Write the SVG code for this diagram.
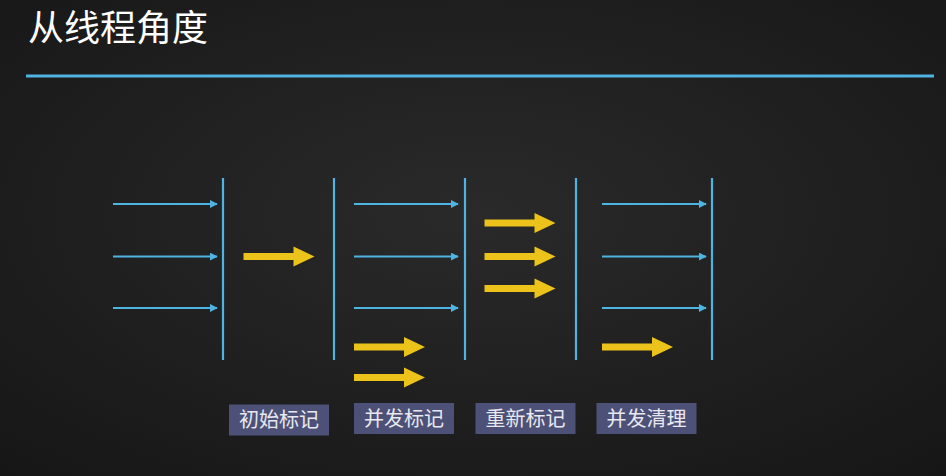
<svg xmlns="http://www.w3.org/2000/svg" width="946" height="476" viewBox="0 0 946 476">
<defs>
<radialGradient id="bg" cx="50%" cy="45%" r="75%">
<stop offset="0" stop-color="#2a2a2a"/>
<stop offset="1" stop-color="#161616"/>
</radialGradient>
<marker id="tip" viewBox="0 0 10 10" refX="9" refY="5" markerWidth="4" markerHeight="4" orient="auto" markerUnits="strokeWidth">
<path d="M0,0 L10,5 L0,10 z" fill="#4eb4e2"/>
</marker>
<path id="ya" d="M0,-3.5 L0,3.5 L50,3.5 L50,10 L71,0 L50,-10 L50,-3.5 z" fill="#ecc31a"/>
<style>
.bar{stroke:#4eb4e2;stroke-width:2.2;fill:none}
.thin{stroke:#4eb4e2;stroke-width:2;fill:none;marker-end:url(#tip)}
.box{fill:#4d5178}
.lbl{font-family:"Noto Sans CJK SC","Noto Sans",sans-serif;font-size:20px;fill:#e8e8ee;text-anchor:middle}
.title{font-family:"Noto Sans CJK SC","Noto Sans",sans-serif;font-size:36px;fill:#ffffff}
</style>
</defs>
<rect width="946" height="476" fill="url(#bg)"/>
<text class="title" x="28" y="41">从线程角度</text>
<line x1="26" y1="76" x2="934" y2="76" stroke="#4eb4e2" stroke-width="3"/>
<g id="connectors">
<line class="bar" x1="223" y1="178" x2="223" y2="360"/>
<line class="bar" x1="334" y1="178" x2="334" y2="360"/>
<line class="bar" x1="465" y1="178" x2="465" y2="360"/>
<line class="bar" x1="576" y1="178" x2="576" y2="360"/>
<line class="bar" x1="712" y1="178" x2="712" y2="360"/>
<line class="thin" x1="113" y1="204" x2="217" y2="204"/>
<line class="thin" x1="113" y1="256.5" x2="217" y2="256.5"/>
<line class="thin" x1="113" y1="308" x2="217" y2="308"/>
<line class="thin" x1="354" y1="204" x2="458" y2="204"/>
<line class="thin" x1="354" y1="256.5" x2="458" y2="256.5"/>
<line class="thin" x1="354" y1="308" x2="458" y2="308"/>
<line class="thin" x1="602" y1="204" x2="706" y2="204"/>
<line class="thin" x1="602" y1="256.5" x2="706" y2="256.5"/>
<line class="thin" x1="602" y1="308" x2="706" y2="308"/>
<use href="#ya" x="243.5" y="256.5"/>
<use href="#ya" x="354" y="347"/>
<use href="#ya" x="354" y="377.5"/>
<use href="#ya" x="484.5" y="223"/>
<use href="#ya" x="484.5" y="256.5"/>
<use href="#ya" x="484.5" y="288.5"/>
<use href="#ya" x="602" y="347"/>
</g>
<g id="n1"><rect class="box" x="229" y="404.5" width="100" height="31"/><text class="lbl" x="279" y="427">初始标记</text></g>
<g id="n2"><rect class="box" x="354" y="403" width="100" height="31"/><text class="lbl" x="404" y="425.5">并发标记</text></g>
<g id="n3"><rect class="box" x="475.5" y="403" width="100" height="31"/><text class="lbl" x="525.5" y="425.5">重新标记</text></g>
<g id="n4"><rect class="box" x="596.5" y="403" width="100" height="31"/><text class="lbl" x="646.5" y="425.5">并发清理</text></g>
</svg>
